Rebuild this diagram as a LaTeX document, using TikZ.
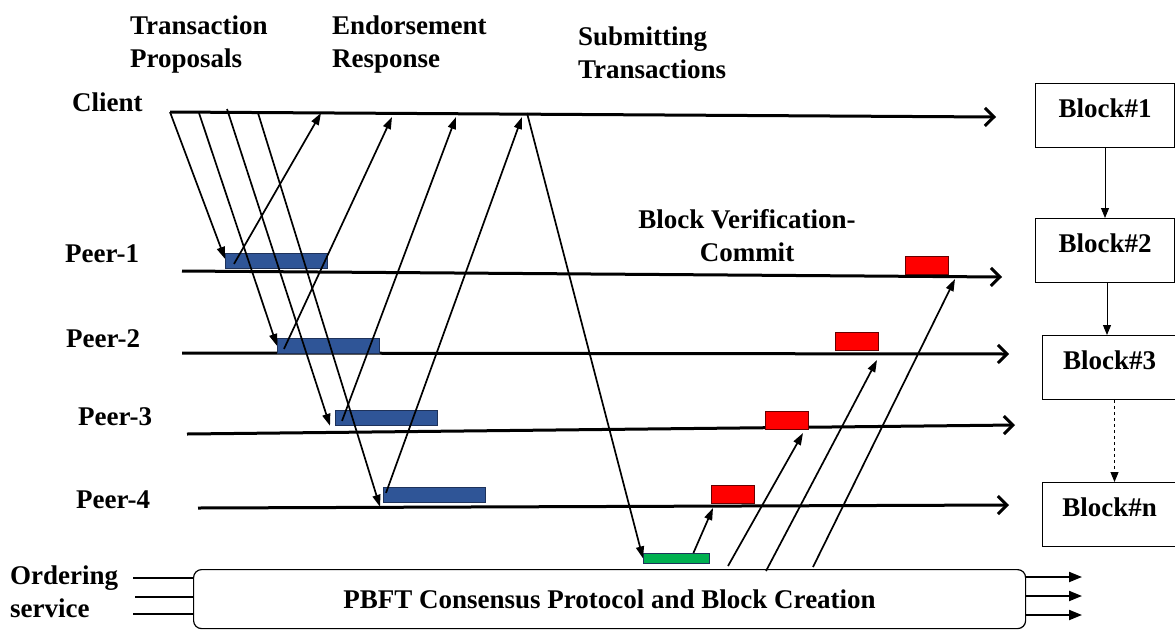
\documentclass[tikz,border=0pt]{standalone}
\usepackage{fontspec}
\setmainfont{Liberation Serif}
\usetikzlibrary{arrows.meta}

\definecolor{barblue}{RGB}{47,85,151}
\definecolor{bardark}{RGB}{30,50,90}
\definecolor{barred}{RGB}{255,0,0}
\definecolor{bargreen}{RGB}{0,176,80}

\tikzset{
  lbl/.style={font=\bfseries\fontsize{27}{33}\selectfont, inner sep=0pt, align=left},
  lane/.style={line width=3pt, -{Straight Barb[length=9pt,width=18pt]}},
  msg/.style={line width=1.7pt, -{Triangle[length=12pt,width=8pt]}},
  bar/.style={draw=bardark, line width=0.8pt, anchor=north west, inner sep=0pt},
  endorse/.style={bar, fill=barblue, minimum width=102pt, minimum height=15pt},
  commit/.style={bar, fill=barred, draw=black!60!red, minimum width=43pt, minimum height=18pt},
  blockbox/.style={draw, line width=1pt, anchor=north west, minimum width=139pt,
    inner xsep=0pt, inner ysep=5pt, text height=29pt, text depth=25pt,
    font=\bfseries\fontsize{27}{33}\selectfont}
}

\begin{document}
\begin{tikzpicture}[x=1pt,y=-1pt]
  \useasboundingbox (0,0) rectangle (1175,630);

  % labels
  \begin{scope}[every node/.style={lbl}]
    \node[anchor=base west] (client) at (72,111) {Client};
    \node[anchor=base west] (peer1) at (65,262) {Peer-1};
    \node[anchor=base west] (peer2) at (66,347) {Peer-2};
    \node[anchor=base west] (peer3) at (78,425) {Peer-3};
    \node[anchor=base west] (peer4) at (76,508) {Peer-4};
    \node[anchor=north west] (proposals) at (130,16) {Transaction\\Proposals};
    \node[anchor=north west] (response) at (332,16) {Endorsement\\Response};
    \node[anchor=north west] (submit) at (578,27) {Submitting\\Transactions};
    \node[anchor=north, align=center] (verify) at (747,209) {Block Verification-\\Commit};
    \node[anchor=north west] (ordering) at (10,566) {Ordering\\service};
  \end{scope}

  % time lines
  \coordinate (c0) at (170,112);  \coordinate (c9) at (996,117);
  \coordinate (l10) at (182,271); \coordinate (l19) at (1002,277);
  \coordinate (l20) at (182,353); \coordinate (l29) at (1009,354);
  \coordinate (l30) at (187,434); \coordinate (l39) at (1015,425);
  \coordinate (l40) at (198,508); \coordinate (l49) at (1009,505);
  \draw[lane] (c0) -- (c9);
  \draw[lane] (l10) -- (l19);
  \draw[lane] (l20) -- (l29);
  \draw[lane] (l30) -- (l39);
  \draw[lane] (l40) -- (l49);

  % endorsement and commit bars
  \node[endorse] (e1) at (225,253) {};
  \node[endorse] (e2) at (277,338) {};
  \node[endorse] (e3) at (335,410) {};
  \node[endorse] (e4) at (383,487) {};
  \node[commit] (v1) at (905,256) {};
  \node[commit] (v2) at (835,332) {};
  \node[commit] (v3) at (765,411) {};
  \node[commit] (v4) at (711,485) {};
  \node[bar, fill=bargreen, minimum width=66pt, minimum height=10pt] (g) at (643,553) {};

  % ordering service
  \node[draw, line width=1.2pt, rounded corners=8pt, anchor=north west, minimum width=832pt,
    minimum height=59pt, font=\bfseries\fontsize{27}{33}\selectfont] (pbft) at (193,569)
    {PBFT Consensus Protocol and Block Creation};
  \coordinate (o1) at (133,578);
  \coordinate (o2) at (135,597);
  \coordinate (o3) at (133,614);
  \draw[line width=2pt] (o1) -- (pbft.west |- o1);
  \draw[line width=2pt] (o2) -- (pbft.west |- o2);
  \draw[line width=2pt] (o3) -- (pbft.west |- o3);
  \coordinate (x1) at (1082,577);
  \coordinate (x2) at (1082,596);
  \coordinate (x3) at (1082,615);
  \draw[line width=2pt, -{Triangle[length=13pt,width=10pt]}] (pbft.east |- x1) -- (x1);
  \draw[line width=2pt, -{Triangle[length=13pt,width=10pt]}] (pbft.east |- x2) -- (x2);
  \draw[line width=2pt, -{Triangle[length=13pt,width=10pt]}] (pbft.east |- x3) -- (x3);

  % blocks
  \node[blockbox] (b1) at (1035,83) {Block\#1};
  \node[blockbox] (b2) at (1035,218) {Block\#2};
  \node[blockbox, minimum width=134pt] (b3) at (1042,335) {Block\#3};
  \node[blockbox, minimum width=134pt] (b4) at (1042,482) {Block\#n};
  \draw[line width=0.9pt, -{Triangle[length=10pt,width=8pt]}] (b1.south) -- (b2.north);
  \draw[line width=0.9pt, -{Triangle[length=10pt,width=8pt]}] ([xshift=2pt]b2.south) -- ([xshift=2pt]b2.south |- b3.north);
  \draw[line width=0.9pt, dashed, -{Triangle[length=10pt,width=8pt]}] ([xshift=5pt]b3.south) -- ([xshift=5pt]b4.north);

  % client line points
  \coordinate (p2) at (199,113);
  \coordinate (p3) at (227,109);
  \coordinate (p4) at (258,113);
  \coordinate (r1) at (321,113);
  \coordinate (r2) at (392,117);
  \coordinate (r3) at (456,117);
  \coordinate (r4) at (522,117);
  \coordinate (s0) at (527,113);

  % peer line points
  \coordinate (t1) at (955,279);
  \coordinate (t2) at (877,360);
  \coordinate (t3) at (803,433);
  \coordinate (t4) at (713,508);
  \coordinate (q1) at (813,567);
  \coordinate (q2) at (766,571);
  \coordinate (q3) at (728,566);

  \begin{scope}[every path/.style={msg}]
    \path (c0) edge ([yshift=2pt]e1.west);
    \path (p2) edge (e2.west);
    \path (p3) edge ([xshift=-5pt]e3.south west);
    \path (p4) edge ([xshift=-3pt,yshift=-4pt]e4.south west);
    \path ([xshift=9pt,yshift=-3pt]e1.west) edge (r1);
    \path ([xshift=7pt,yshift=-3pt]e2.west) edge (r2);
    \path ([xshift=7pt,yshift=-3pt]e3.west) edge (r3);
    \path ([xshift=3pt,yshift=2pt]e4.west) edge (r4);
    \path (s0) edge (g.west);
    \path ([xshift=17pt]g.north) edge (t4);
    \path (q3) edge (t3);
    \path (q2) edge (t2);
    \path (q1) edge (t1);
  \end{scope}
\end{tikzpicture}
\end{document}
